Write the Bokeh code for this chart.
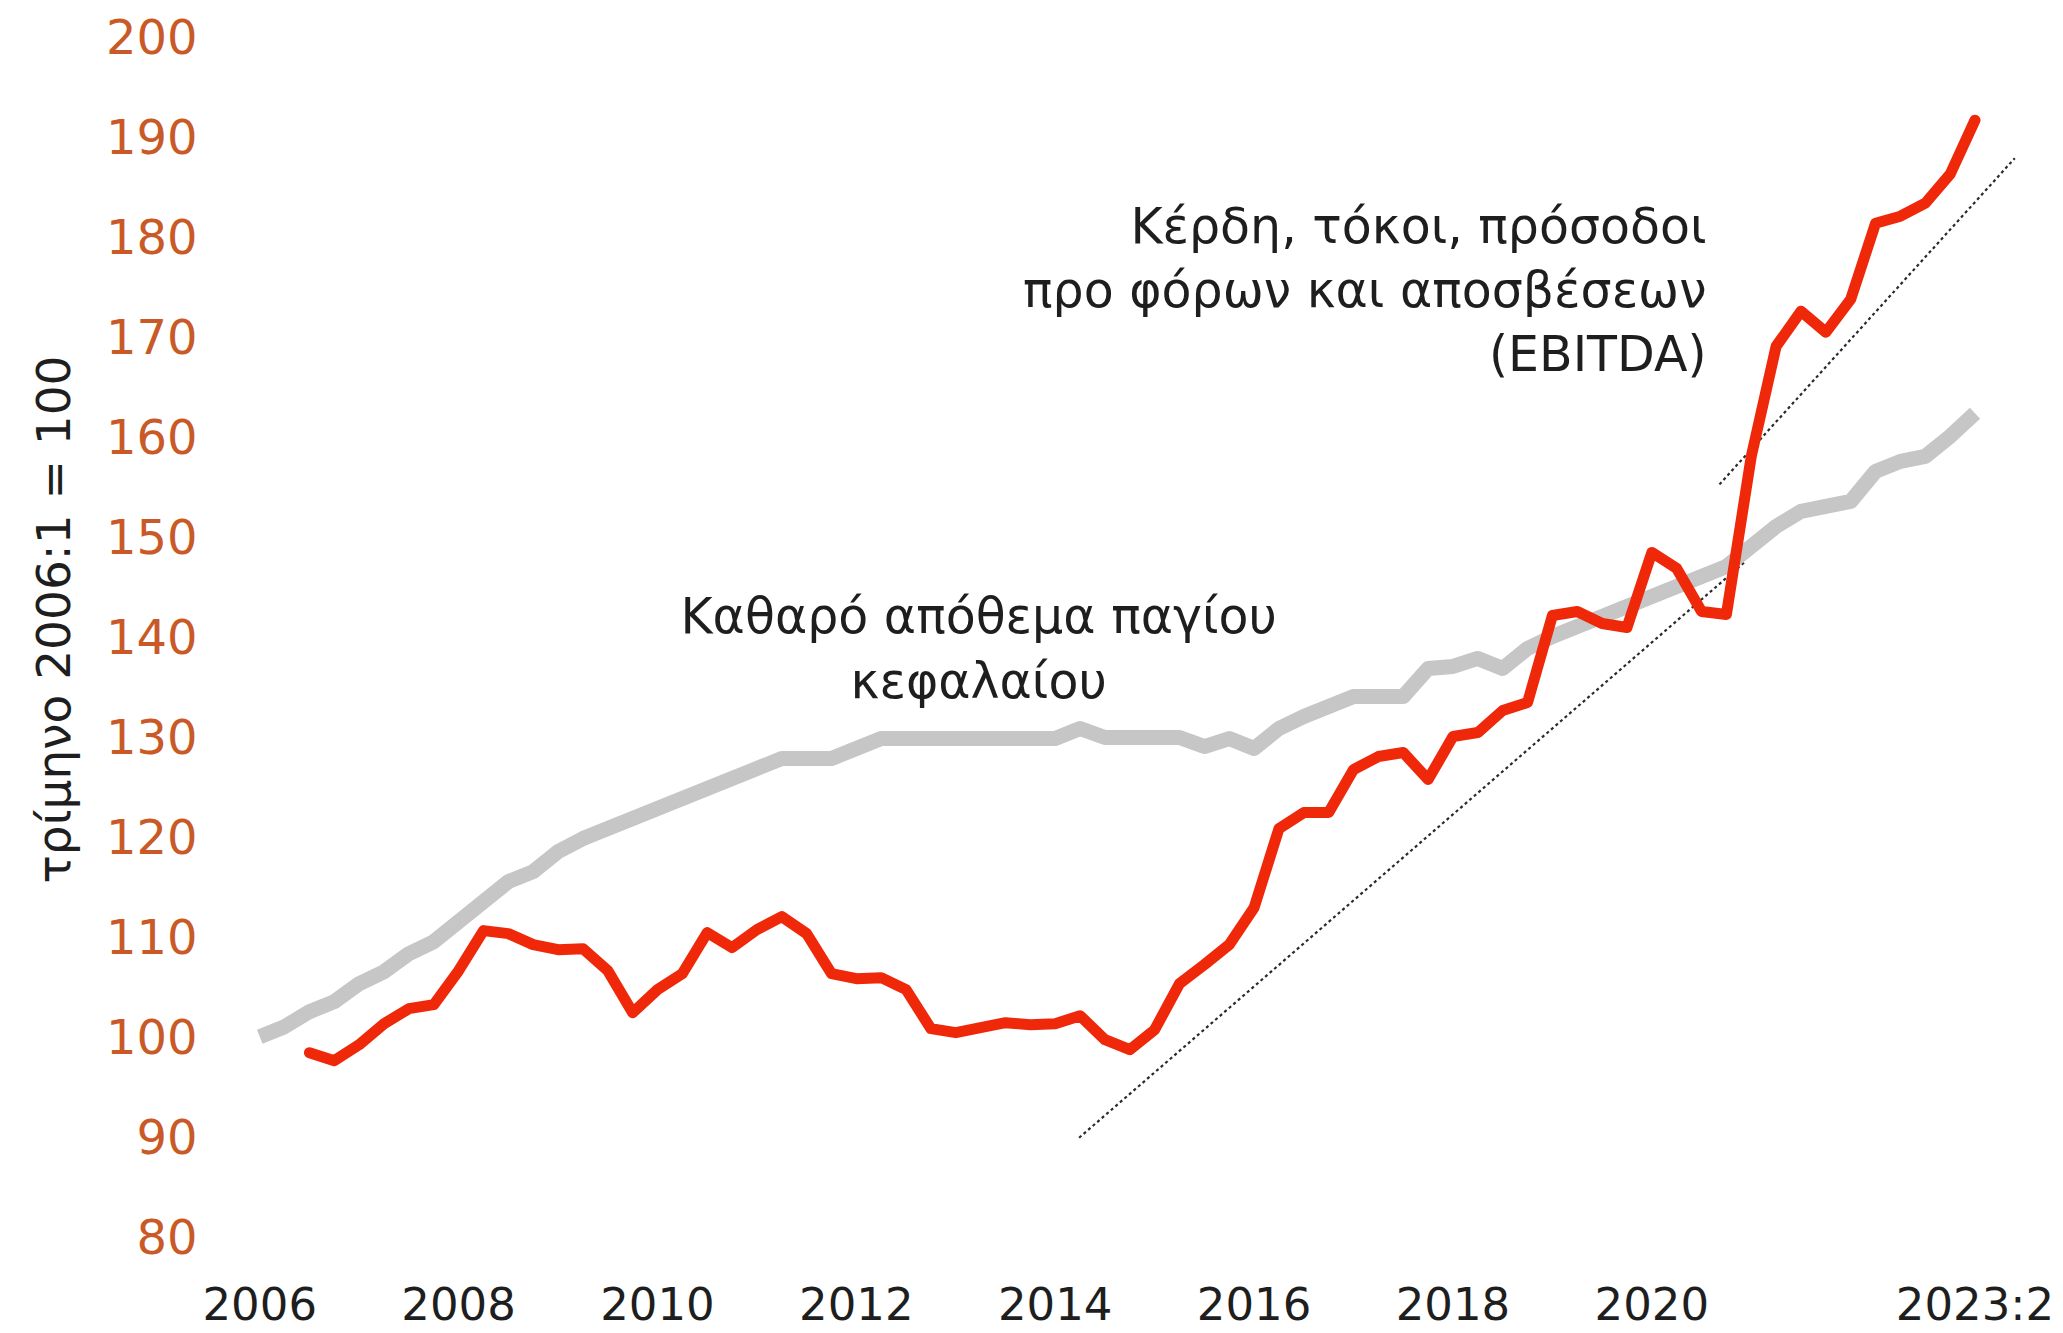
from bokeh.plotting import figure
from bokeh.models import FixedTicker, Label, Range1d
from bokeh.embed import file_html
from bokeh.resources import INLINE

# ---- data (quarterly index, 2006:1 = 100) ----
capital_start = 2006.0          # 2006:1
capital_stock = [
    100.0, 101.0, 102.5, 103.5,
    105.3, 106.5, 108.3, 109.5,
    111.5, 113.5, 115.5, 116.5,
    118.5, 119.8, 120.8, 121.8,
    122.8, 123.8, 124.8, 125.8,
    126.8, 127.8, 127.8, 127.8,
    128.8, 129.8, 129.8, 129.8,
    129.8, 129.8, 129.8, 129.8,
    129.8, 130.8, 129.9, 129.9,
    129.9, 129.9, 129.0, 129.8,
    128.8, 130.8, 132.0, 133.0,
    134.0, 134.0, 134.0, 136.8,
    137.0, 137.8, 136.8, 138.8,
    140.0, 141.0, 142.0, 143.0,
    144.0, 145.0, 146.0, 147.0,
    149.0, 151.0, 152.5, 153.0,
    153.5, 156.5, 157.5, 158.0,
    160.0, 162.3,
]

ebitda_start = 2006.5           # 2006:3
ebitda = [
    98.4, 97.6,
    99.2, 101.3, 102.8, 103.2,
    106.6, 110.6, 110.3, 109.2,
    108.7, 108.8, 106.6, 102.4,
    104.7, 106.3, 110.4, 108.9,
    110.7, 112.0, 110.3, 106.3,
    105.8, 105.9, 104.7, 100.8,
    100.4, 100.9, 101.4, 101.2,
    101.3, 102.1, 99.7, 98.7,
    100.7, 105.3, 107.2, 109.2,
    112.9, 120.8, 122.4, 122.4,
    126.7, 128.0, 128.4, 125.7,
    130.0, 130.4, 132.6, 133.4,
    142.1, 142.5, 141.3, 140.9,
    148.4, 146.8, 142.5, 142.2,
    158.0, 169.0, 172.5, 170.4,
    173.7, 181.3, 182.0, 183.3,
    186.2, 191.6,
]

# dotted trend lines (endpoints)
trend1_x = [2014.24, 2020.93]
trend1_y = [89.9, 147.4]
trend2_x = [2020.68, 2023.65]
trend2_y = [155.2, 187.8]

x_ticks = [2006, 2008, 2010, 2012, 2014, 2016, 2018, 2020, 2023.25]
x_tick_labels = ["2006", "2008", "2010", "2012", "2014", "2016", "2018", "2020", "2023:2"]
y_ticks = [80, 90, 100, 110, 120, 130, 140, 150, 160, 170, 180, 190, 200]

y_title = "τρίμηνο 2006:1 = 100"
label_capital = ["Καθαρό απόθεμα παγίου", "κεφαλαίου"]
label_ebitda = ["Κέρδη, τόκοι, πρόσοδοι", "προ φόρων και αποσβέσεων", "(EBITDA)"]

capital_x = [capital_start + i / 4 for i in range(len(capital_stock))]
ebitda_x = [ebitda_start + i / 4 for i in range(len(ebitda))]

FONT = "DejaVu Sans"
ORANGE = "#c95a27"
RED = "#f0280a"
GREY = "#c6c6c6"
TEXT = "#1e1e1e"

p = figure(
    width=2063, height=1333,
    output_backend="svg", toolbar_location=None,
    x_range=Range1d(2005.555, 2024.14),
    y_range=Range1d(79.83, 203.56),
    min_border_left=215, min_border_right=0,
    min_border_top=0, min_border_bottom=92,
)
p.outline_line_color = None
p.grid.visible = False
p.background_fill_color = "white"
p.border_fill_color = "white"

for ax in (p.xaxis[0], p.yaxis[0]):
    ax.axis_line_color = None
    ax.major_tick_line_color = None
    ax.minor_tick_line_color = None
    ax.major_label_text_font = FONT

p.xaxis.ticker = FixedTicker(ticks=x_ticks)
p.xaxis.major_label_overrides = {t: s for t, s in zip(x_ticks, x_tick_labels)}
p.xaxis.major_label_text_font_size = "45px"
p.xaxis.major_label_text_color = TEXT
p.xaxis.major_label_standoff = 33

p.yaxis.ticker = FixedTicker(ticks=y_ticks)
p.yaxis.major_label_text_font_size = "48px"
p.yaxis.major_label_text_color = ORANGE
p.yaxis.major_label_standoff = 12
p.yaxis.axis_label = y_title
p.yaxis.axis_label_text_font = FONT
p.yaxis.axis_label_text_font_size = "47px"
p.yaxis.axis_label_text_font_style = "normal"
p.yaxis.axis_label_text_color = TEXT
p.yaxis.axis_label_standoff = 22

p.line(trend1_x, trend1_y, line_color="#2a2a2a", line_width=2.2, line_dash="3 3")
p.line(trend2_x, trend2_y, line_color="#2a2a2a", line_width=2.2, line_dash="3 3")
p.line(capital_x, capital_stock, line_color=GREY, line_width=15, line_join="round")
p.line(ebitda_x, ebitda, line_color=RED, line_width=11, line_join="round", line_cap="round")

# annotations
cap_x, cap_y0, cap_dy = 2013.23, 142.0, 6.5
for i, t in enumerate(label_capital):
    p.add_layout(Label(x=cap_x, y=cap_y0 - i * cap_dy, text=t, text_align="center",
                       text_baseline="middle", text_font=FONT, text_font_size="49px",
                       text_color=TEXT))
eb_x, eb_y0, eb_dy = 2020.55, 181.0, 6.4
for i, t in enumerate(label_ebitda):
    p.add_layout(Label(x=eb_x, y=eb_y0 - i * eb_dy, text=t, text_align="right",
                       text_baseline="middle", text_font=FONT, text_font_size="49px",
                       text_color=TEXT))

open("out.html", "w").write(file_html(p, INLINE))
